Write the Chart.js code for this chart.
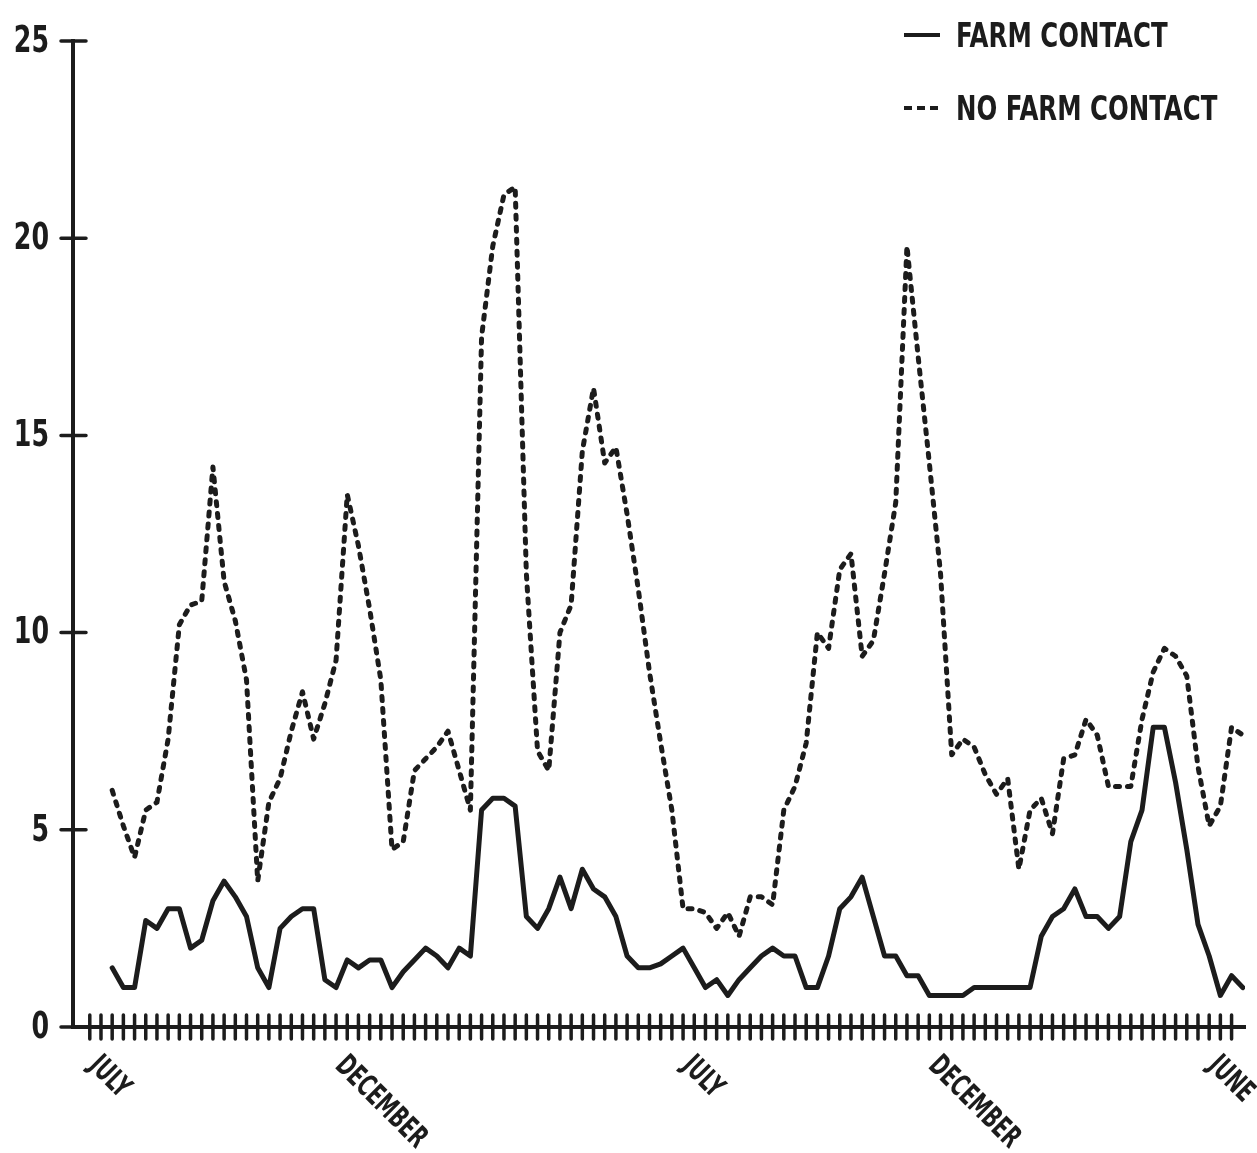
<!DOCTYPE html>
<html>
<head>
<meta charset="utf-8">
<title>Farm contact</title>
<script src="https://cdn.jsdelivr.net/npm/chart.js@4.4.1/dist/chart.umd.min.js"></script>
<style>
    body { margin: 0; background: #fff; }
    #wrap { position: relative; width: 1257px; height: 1153px; }
    #legend { position: absolute; left: 903px; top: 14px; }
    .legend-row {
        display: flex;
        align-items: center;
        height: 42px;
        margin-bottom: 31px;
        font: bold 34px "DejaVu Sans Condensed", "Liberation Sans Narrow", sans-serif;
        color: #1c1c1c;
        white-space: nowrap;
    }
    .legend-row svg { margin-right: 15px; }
    .legend-row span { display: inline-block; transform: scaleX(0.8); transform-origin: left center; }
</style>
</head>
<body>
<div id="wrap">
    <canvas id="chart"></canvas>
    <div id="legend"></div>
</div>
<script>
// weekly values, first point sits on the third weekly tick
const farmContact = [
    1.5, 1.0, 1.0, 2.7, 2.5, 3.0, 3.0, 2.0, 2.2, 3.2, 3.7, 3.3, 2.8,
    1.5, 1.0, 2.5, 2.8, 3.0, 3.0, 1.2, 1.0, 1.7, 1.5, 1.7, 1.7,
    1.0, 1.4, 1.7, 2.0, 1.8, 1.5, 2.0, 1.8,
    5.5, 5.8, 5.8, 5.6,
    2.8, 2.5, 3.0, 3.8, 3.0, 4.0, 3.5, 3.3, 2.8,
    1.8, 1.5, 1.5, 1.6, 1.8, 2.0,
    1.5, 1.0, 1.2, 0.8, 1.2, 1.5, 1.8, 2.0,
    1.8, 1.8, 1.0, 1.0, 1.8, 3.0, 3.3, 3.8,
    2.8, 1.8, 1.8, 1.3, 1.3,
    0.8, 0.8, 0.8, 0.8,
    1.0, 1.0, 1.0, 1.0, 1.0, 1.0,
    2.3, 2.8, 3.0, 3.5,
    2.8, 2.8, 2.5, 2.8,
    4.7, 5.5, 7.6, 7.6,
    6.2, 4.5, 2.6, 1.8, 0.8, 1.3, 1.0
];

const noFarmContact = [
    6.0, 5.1, 4.3, 5.5, 5.7, 7.3, 10.2, 10.7, 10.8, 14.2, 11.3, 10.3, 8.8,
    3.7, 5.7, 6.3, 7.5, 8.5, 7.3, 8.2, 9.3, 13.5, 12.2, 10.6, 8.8,
    4.5, 4.7, 6.5, 6.8, 7.1, 7.5, 6.5, 5.5, 17.5, 19.8, 21.1, 21.3,
    11.5, 7.0, 6.5, 10.0, 10.7, 14.6, 16.2, 14.3, 14.7,
    13.0, 11.1, 9.0, 7.2, 5.5, 3.0, 3.0,
    2.9, 2.5, 2.9, 2.3, 3.3, 3.3, 3.1,
    5.5, 6.1, 7.2, 10.0, 9.6, 11.6, 12.0, 9.4, 9.8, 11.5, 13.3, 19.8,
    17.0, 14.3, 11.5, 6.9,
    7.3, 7.1, 6.4, 5.9, 6.3, 4.0, 5.5, 5.8, 4.9,
    6.8, 6.9, 7.8, 7.4, 6.1, 6.1, 6.1, 7.8, 9.0, 9.6, 9.4, 8.9, 6.6, 5.1, 5.6, 7.6, 7.4
];

const seriesNames = ['FARM CONTACT', 'NO FARM CONTACT'];
const monthLabels = ['JULY', 'DECEMBER', 'JULY', 'DECEMBER', 'JUNE'];
const monthWeeks = [0, 22, 53, 75, 100];
const yTicks = [0, 5, 10, 15, 20, 25];
const firstWeek = 2;
const lastTickWeek = 102;

const ink = '#1c1c1c';
const fontFamily = '"DejaVu Sans Condensed", "Liberation Sans Narrow", sans-serif';

const weekTicks = Array.from({ length: lastTickWeek + 1 }, (_, i) => i);
const toPoints = (values) => values.map((v, i) => ({ x: firstWeek + i, y: v }));

// the plotter lettering is very narrow, so squeeze the text horizontally
const drawNarrow = (ctx, text, x, y, squeeze, angle) => {
    ctx.save();
    ctx.translate(x, y);
    if (angle) ctx.rotate(angle);
    ctx.scale(squeeze, 1);
    ctx.fillText(text, 0, 0);
    ctx.restore();
};

// tick marks crossing both axes, y numbers and slanted month names
const axisMarks = {
    id: 'axisMarks',
    afterDraw(chart) {
        const { ctx, chartArea, scales: { x, y } } = chart;
        const y0 = y.getPixelForValue(0);
        const x0 = chartArea.left;
        ctx.save();
        ctx.strokeStyle = ink;
        ctx.lineWidth = 3.5;
        ctx.lineCap = 'round';
        ctx.beginPath();
        x.ticks.forEach(t => {
            const px = x.getPixelForValue(t.value);
            ctx.moveTo(px, y0 - 12);
            ctx.lineTo(px, y0 + 12);
        });
        y.ticks.forEach(t => {
            const py = y.getPixelForValue(t.value);
            ctx.moveTo(x0 - 12, py);
            ctx.lineTo(x0 + 13, py);
        });
        ctx.stroke();

        ctx.fillStyle = ink;
        ctx.font = 'bold 38px ' + fontFamily;
        ctx.textAlign = 'right';
        ctx.textBaseline = 'middle';
        yTicks.forEach(v => {
            drawNarrow(ctx, String(v), x0 - 24, y.getPixelForValue(v) + 1, 0.74, 0);
        });

        ctx.font = 'bold 30px ' + fontFamily;
        ctx.textAlign = 'left';
        ctx.textBaseline = 'top';
        monthLabels.forEach((label, i) => {
            const px = x.getPixelForValue(monthWeeks[i]) + 14;
            drawNarrow(ctx, label, px, y0 + 24, 0.7, Math.PI / 4);
        });
        ctx.restore();
    }
};

// legend written as html next to the chart
const htmlLegend = {
    id: 'htmlLegend',
    afterUpdate(chart) {
        const box = document.getElementById('legend');
        box.innerHTML = '';
        const items = chart.options.plugins.legend.labels.generateLabels(chart);
        items.forEach(item => {
            const row = document.createElement('div');
            row.className = 'legend-row';
            const dash = item.lineDash && item.lineDash.length ? 'stroke-dasharray="8 5"' : '';
            row.innerHTML =
                `<svg width="38" height="8"><line x1="1" y1="4" x2="37" y2="4" stroke="${ink}" stroke-width="4" ${dash}/></svg>` +
                `<span>${item.text}</span>`;
            box.appendChild(row);
        });
    }
};

const ctx = document.getElementById('chart').getContext('2d');

new Chart(ctx, {
    type: 'line',
    data: {
        datasets: [{
            label: seriesNames[0],
            data: toPoints(farmContact),
            borderColor: ink,
            backgroundColor: ink,
            borderWidth: 5,
            pointRadius: 0,
            tension: 0,
            borderJoinStyle: 'round',
            borderCapStyle: 'round'
        }, {
            label: seriesNames[1],
            data: toPoints(noFarmContact),
            borderColor: ink,
            backgroundColor: ink,
            borderWidth: 5,
            borderDash: [4, 8],
            pointRadius: 0,
            tension: 0,
            borderJoinStyle: 'round',
            borderCapStyle: 'round'
        }]
    },
    options: {
        responsive: true,
        maintainAspectRatio: false,
        animation: false,
        layout: { padding: { left: 0, right: 12, top: 41, bottom: 0 } },
        plugins: {
            legend: { display: false },
            tooltip: { enabled: false }
        },
        scales: {
            x: {
                type: 'linear',
                min: -1.5,
                max: 103.2,
                afterBuildTicks: (scale) => { scale.ticks = weekTicks.map(v => ({ value: v })); },
                afterFit: (scale) => { scale.height = 126; },
                ticks: { display: false },
                grid: { display: false, drawTicks: false },
                border: { display: true, color: ink, width: 4 }
            },
            y: {
                min: 0,
                max: 25,
                afterBuildTicks: (scale) => { scale.ticks = yTicks.map(v => ({ value: v })); },
                afterFit: (scale) => { scale.width = 73; },
                ticks: { display: false },
                grid: { display: false, drawTicks: false },
                border: { display: true, color: ink, width: 4 }
            }
        }
    },
    plugins: [axisMarks, htmlLegend]
});
</script>
</body>
</html>
